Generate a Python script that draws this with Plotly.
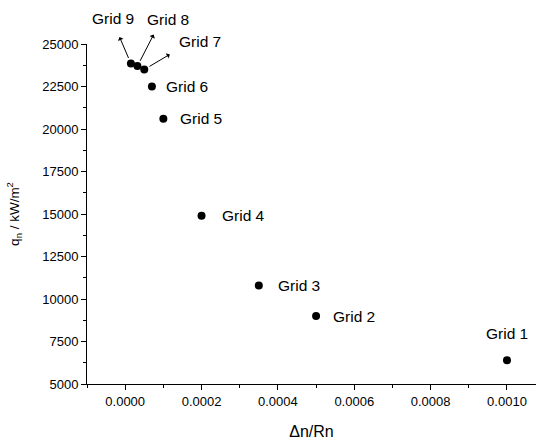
import plotly.graph_objects as go

grids = ["Grid 1", "Grid 2", "Grid 3", "Grid 4", "Grid 5", "Grid 6", "Grid 7", "Grid 8", "Grid 9"]
dn_rn = [0.001, 0.0005, 0.00035, 0.0002, 0.0001, 0.00007, 0.00005, 0.000032, 0.000015]
q_n = [6400, 9000, 10800, 14900, 20600, 22500, 23500, 23700, 23850]

x_ticks = [0.0, 0.0002, 0.0004, 0.0006, 0.0008, 0.0010]
y_ticks = [5000, 7500, 10000, 12500, 15000, 17500, 20000, 22500, 25000]

FONT = "Liberation Sans, Arial, sans-serif"

fig = go.Figure()
fig.add_trace(go.Scatter(
    x=dn_rn, y=q_n, mode="markers",
    marker=dict(color="black", size=8),
    showlegend=False, hoverinfo="skip",
))

# label styles: (xanchor, xshift, yshift) per grid
label_style = {
    "Grid 1": ("center", 0, 27),
    "Grid 2": ("left", 15, 0),
    "Grid 3": ("left", 17, 0),
    "Grid 4": ("left", 18, 0),
    "Grid 5": ("left", 15, 0),
    "Grid 6": ("left", 12, 0),
    "Grid 7": ("center", 56, 28),
    "Grid 8": ("center", 31, 47),
    "Grid 9": ("center", -18, 45),
}
# arrows from the dot outward (pixel offsets)
arrow_style = {
    "Grid 7": (27, -16),
    "Grid 8": (17, -33),
    "Grid 9": (-12, -28),
}

for name, xv, yv in zip(grids, dn_rn, q_n):
    xa, xs, ys = label_style[name]
    fig.add_annotation(
        x=xv, y=yv, text=name, showarrow=False,
        xanchor=xa, yanchor="middle", xshift=xs, yshift=ys,
        font=dict(family=FONT, size=15.5, color="black"),
    )
    if name in arrow_style:
        ax, ay = arrow_style[name]
        fig.add_annotation(
            x=xv, y=yv, text="", showarrow=True,
            ax=ax, ay=ay, arrowside="start", arrowhead=2, arrowsize=1,
            arrowwidth=1, arrowcolor="black", standoff=6,
        )

fig.update_layout(
    width=536, height=443,
    margin=dict(l=87, r=0, t=44, b=59),
    paper_bgcolor="white", plot_bgcolor="white",
    font=dict(family=FONT, size=13, color="black"),
    xaxis=dict(
        range=[-0.0001, 0.001076], tickvals=x_ticks, tickformat=".4f",
        showgrid=False, zeroline=False, showline=True, linecolor="black", linewidth=1,
        ticks="outside", ticklen=5, tickwidth=1, tickcolor="black",
        minor=dict(dtick=0.0001, tick0=-0.0001, ticks="outside", ticklen=3, tickcolor="black"),
        title=dict(text="Δn/Rn", font=dict(size=16), standoff=18),
        tickfont=dict(size=13),
    ),
    yaxis=dict(
        range=[5000, 25000], tickvals=y_ticks, tickformat="d",
        showgrid=False, zeroline=False, showline=True, linecolor="black", linewidth=1,
        ticks="outside", ticklen=5, tickwidth=1, tickcolor="black",
        minor=dict(dtick=1250, tick0=5000, ticks="outside", ticklen=3, tickcolor="black"),
        title=dict(text="q<sub>n</sub> / kW/m<sup>2</sup>", font=dict(size=13.5), standoff=19),
        tickfont=dict(size=13),
    ),
)

fig.write_html(
    "out.html",
    config={"displayModeBar": False},
    post_script="document.body.style.margin='0';document.body.style.overflow='hidden';",
)
